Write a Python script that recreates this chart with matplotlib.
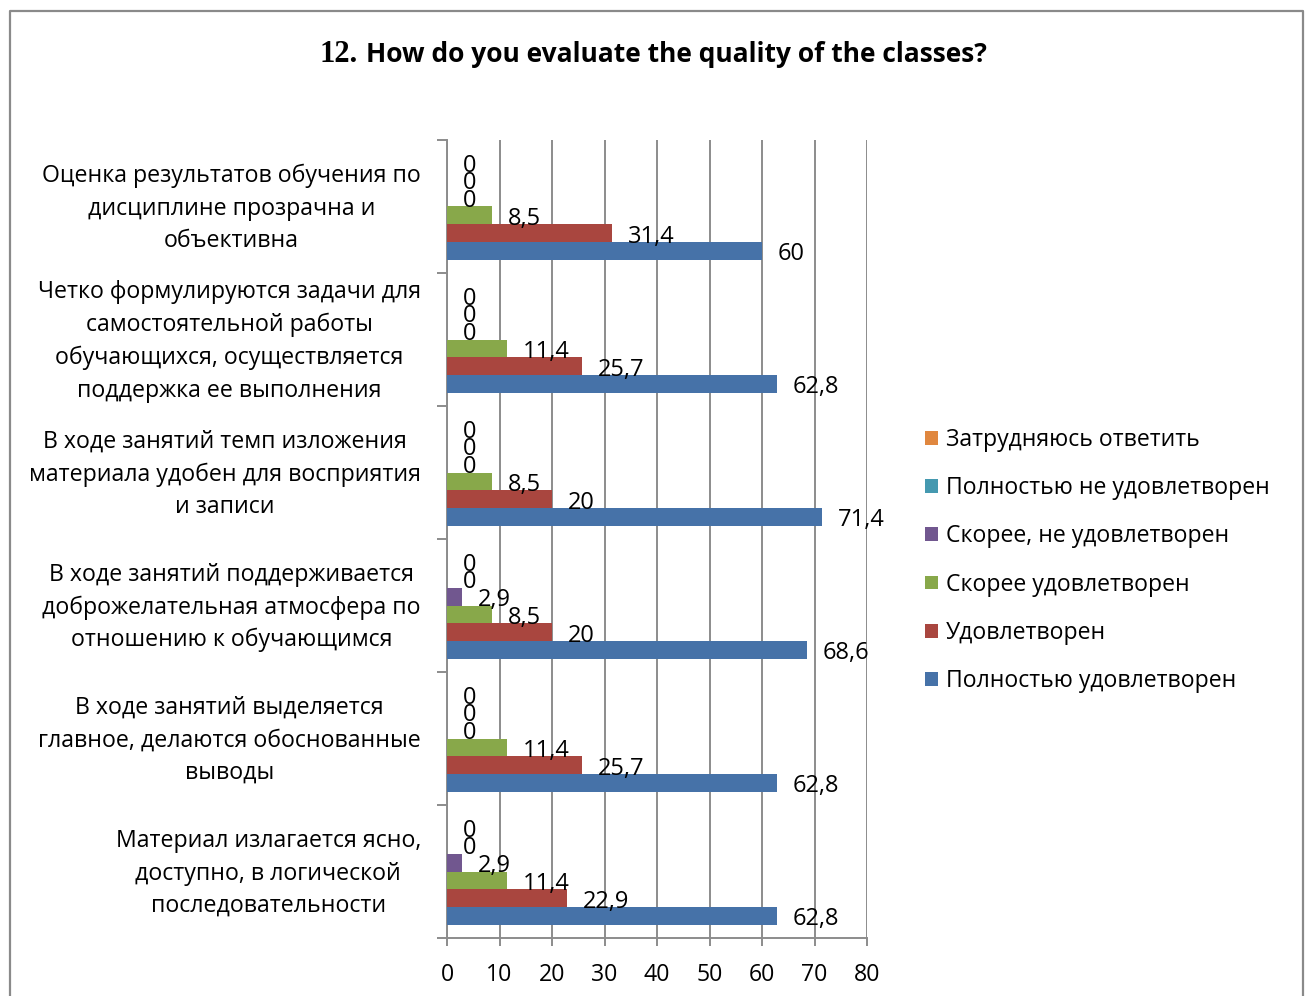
import matplotlib
matplotlib.use("Agg")
import matplotlib.pyplot as plt
from matplotlib.patches import Patch
from matplotlib.lines import Line2D
from matplotlib.transforms import ScaledTranslation
import numpy as np

plt.rcParams['font.family'] = ['Open Sans', 'DejaVu Sans']

# Categories, bottom to top as drawn on the axis
categories = [
    "Материал излагается ясно,\nдоступно, в логической\nпоследовательности",
    "В ходе занятий выделяется\nглавное, делаются обоснованные\nвыводы",
    "В ходе занятий поддерживается\nдоброжелательная атмосфера по\nотношению к обучающимся",
    "В ходе занятий темп изложения\nматериала удобен для восприятия\nи записи",
    "Четко формулируются задачи для\nсамостоятельной работы\nобучающихся, осуществляется\nподдержка ее выполнения",
    "Оценка результатов обучения по\nдисциплине прозрачна и\nобъективна",
]

series_names = [
    "Полностью удовлетворен",
    "Удовлетворен",
    "Скорее удовлетворен",
    "Скорее, не удовлетворен",
    "Полностью не удовлетворен",
    "Затрудняюсь ответить",
]

fully_satisfied = [62.8, 62.8, 68.6, 71.4, 62.8, 60]
satisfied = [22.9, 25.7, 20, 20, 25.7, 31.4]
rather_satisfied = [11.4, 11.4, 8.5, 8.5, 11.4, 8.5]
rather_not_satisfied = [2.9, 0, 2.9, 0, 0, 0]
fully_not_satisfied = [0, 0, 0, 0, 0, 0]
hard_to_say = [0, 0, 0, 0, 0, 0]

series_values = [fully_satisfied, satisfied, rather_satisfied,
                 rather_not_satisfied, fully_not_satisfied, hard_to_say]
colors = ["#4672A8", "#A9463F", "#88A84A", "#71578F", "#4599B0", "#E0873F"]

x_ticks = [0, 10, 20, 30, 40, 50, 60, 70, 80]
title_number = "12."
title_text = "How do you evaluate the quality of the classes?"

W, H = 1309, 996
fig = plt.figure(figsize=(W / 100, H / 100), dpi=100)

# Chart-area frame (left, top, right edges)
fx = [9.5 / W, 9.5 / W, 1302.5 / W, 1302.5 / W]
fy = [-0.01, 1 - 11.5 / H, 1 - 11.5 / H, -0.01]
fig.add_artist(Line2D(fx, fy, color="#8a8a8a", lw=1.6, transform=fig.transFigure))

ax = fig.add_axes([447 / W, 1 - 938 / H, 420 / W, 798 / H])

n_series = len(series_values)
gap = 1.5
bar_h = 1.0 / (n_series + gap)
y = np.arange(len(categories))

for j, (vals, col) in enumerate(zip(series_values, colors)):
    offs = (j - (n_series - 1) / 2) * bar_h
    ax.barh(y + offs, vals, height=bar_h, color=col, zorder=3, label=series_names[j])
    for yi, v in zip(y, vals):
        ax.annotate(f"{v:g}".replace(".", ","), xy=(v, yi + offs),
                    xytext=(11.5, -2.5), textcoords="offset points",
                    ha="left", va="center", fontsize=17, color="black", zorder=4)

ax.set_xlim(0, 80)
ax.set_ylim(-0.5, len(categories) - 0.5)
ax.set_xticks(x_ticks)
ax.set_xticklabels([str(t) for t in x_ticks])
ax.grid(axis="x", color="#8c8c8c", lw=1.4, zorder=0)
ax.grid(axis="y", visible=False)

# Category boundary ticks on the value-less axis
ax.set_yticks(np.arange(-0.5, len(categories), 1.0))
ax.set_yticklabels([])
ax.tick_params(axis="y", which="major", length=7, width=1.4, color="#8c8c8c", direction="out")

# Category names, centred text blocks to the left of the axis
label_shift = ax.get_yaxis_transform() + ScaledTranslation(-26 / 100, -2 / 100, fig.dpi_scale_trans)
for yi, name in zip(y, categories):
    ax.text(0, yi, name, transform=label_shift, ha="right", va="center",
            multialignment="center", linespacing=1.47, fontsize=16.7, clip_on=False)

ax.tick_params(axis="x", length=6, width=1.4, color="#8c8c8c", direction="out",
               labelsize=16.7, pad=12)

for side in ("top", "right"):
    ax.spines[side].set_visible(False)
for side in ("left", "bottom"):
    ax.spines[side].set_color("#8c8c8c")
    ax.spines[side].set_linewidth(1.4)

# Legend: top entry is the last series
handles = [Patch(facecolor=c, edgecolor="none") for c in colors][::-1]
labels = series_names[::-1]
fig.legend(handles, labels, loc="upper left", bbox_to_anchor=(925 / W, 1 - 428 / H),
           frameon=False, fontsize=16.6, handlelength=0.55, handleheight=0.55,
           handletextpad=0.35, labelspacing=1.05, borderaxespad=0, borderpad=0)

# Title: serif number followed by sans text
fig.text(358 / W, 1 - 54 / H, title_number, ha="right", va="center",
         fontsize=22, fontweight="bold", family=["Liberation Serif", "DejaVu Serif"])
fig.text(366 / W, 1 - 54 / H, title_text, ha="left", va="center",
         fontsize=19, fontweight="bold")

fig.savefig("out.png", dpi=100)
